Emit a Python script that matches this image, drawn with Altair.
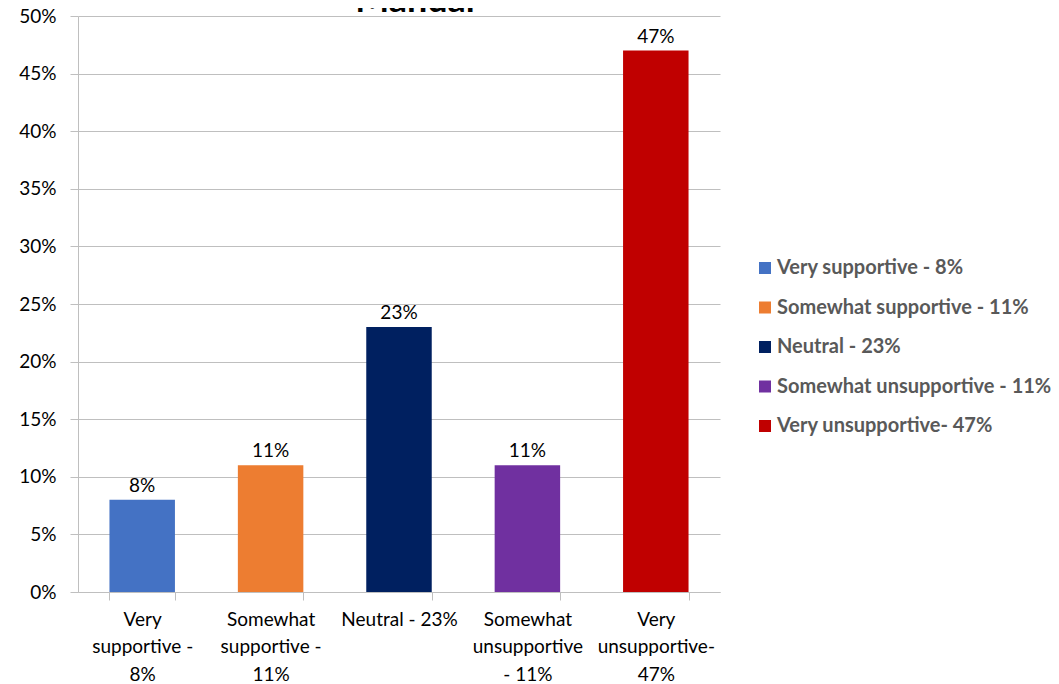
import json
import altair as alt
import pandas as pd

categories = [
    "Very supportive - 8%",
    "Somewhat supportive - 11%",
    "Neutral - 23%",
    "Somewhat unsupportive - 11%",
    "Very unsupportive- 47%",
]
values = [0.08, 0.11, 0.23, 0.11, 0.47]
colors = ["#4472C4", "#ED7D31", "#002060", "#7030A0", "#C00000"]
axis_label_lines = [
    ["Very", "supportive -", "8%"],
    ["Somewhat", "supportive -", "11%"],
    ["Neutral - 23%"],
    ["Somewhat", "unsupportive", "- 11%"],
    ["Very", "unsupportive-", "47%"],
]
y_ticks = [0, 0.05, 0.10, 0.15, 0.20, 0.25, 0.30, 0.35, 0.40, 0.45, 0.50]
title_text = "Manual"

df = pd.DataFrame({"cat": categories, "value": values})
label_map = json.dumps(dict(zip(categories, axis_label_lines)))

FONT = "Lato"
GRID = "#bfbfbf"

x_enc = alt.X(
    "cat:N",
    sort=categories,
    scale=alt.Scale(paddingInner=0.49, paddingOuter=0.245),
    axis=alt.Axis(
        title=None,
        labelAngle=0,
        tickBand="extent",
        labelExpr=f"{label_map}[datum.value]",
        labelFontSize=19,
        labelLineHeight=27.5,
        labelPadding=10,
        labelColor="#000000",
        labelFont=FONT,
        domainColor=GRID,
        tickColor=GRID,
        tickSize=8,
        labelLimit=200,
        grid=False,
    ),
)
y_enc = alt.Y(
    "value:Q",
    scale=alt.Scale(domain=[0, 0.5], nice=False),
    axis=alt.Axis(
        title=None,
        values=y_ticks,
        format=".0%",
        tickSize=8,
        labelPadding=14,
        labelFontSize=19,
        labelFont=FONT,
        labelColor="#000000",
        gridColor=GRID,
        domainColor=GRID,
        tickColor=GRID,
    ),
)

bars = alt.Chart(df).mark_bar().encode(
    x=x_enc,
    y=y_enc,
    color=alt.Color(
        "cat:N",
        sort=categories,
        scale=alt.Scale(domain=categories, range=colors),
        legend=alt.Legend(
            title=None,
            orient="none",
            legendX=677,
            legendY=242,
            symbolType="square",
            symbolSize=144,
            symbolStrokeWidth=0,
            symbolOpacity=1,
            labelFont=FONT,
            labelFontSize=20,
            labelFontWeight="bold",
            labelColor="#595959",
            labelOffset=2,
            rowPadding=19.5,
            labelLimit=400,
        ),
    ),
)

text = alt.Chart(df).mark_text(
    baseline="bottom", dy=-4, fontSize=19, font=FONT, color="#000000"
).encode(
    x=alt.X("cat:N", sort=categories),
    y="value:Q",
    text=alt.Text("value:Q", format=".0%"),
)

title_layer = alt.Chart(pd.DataFrame({"t": [title_text]})).mark_text(
    font=FONT, fontSize=36, fontWeight="bold", color="#000000",
    align="center", baseline="alphabetic",
).encode(
    text="t:N",
    x=alt.value(337),
    y=alt.value(-4),
)

chart = (
    alt.layer(bars, text, title_layer)
    .properties(
        width=642,
        height=576,
        autosize=alt.AutoSizeParams(type="none"),
        padding={"left": 70, "top": 8, "right": 331, "bottom": 100},
    )
    .configure_view(stroke=None)
)

chart.save("out.html", embed_options={"renderer": "svg", "actions": False})
